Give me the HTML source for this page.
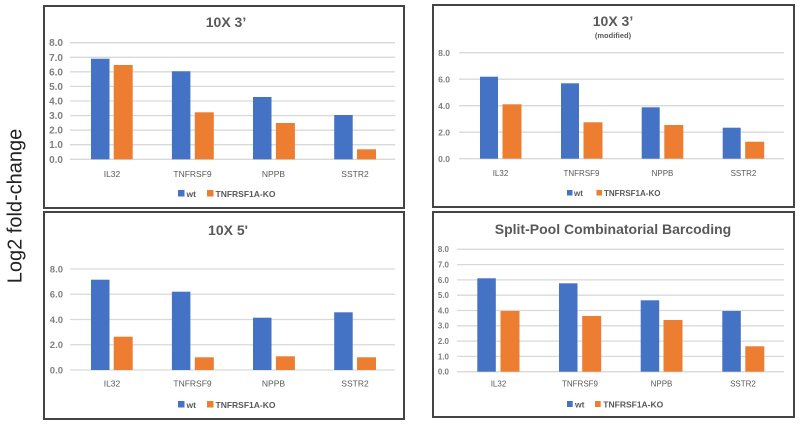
<!DOCTYPE html>
<html><head><meta charset="utf-8"><style>
html,body{margin:0;padding:0;background:#fff;}
svg{display:block;}
text{font-family:"Liberation Sans",Arial,sans-serif;}
</style></head><body>
<svg width="800" height="426" viewBox="0 0 800 426" xmlns="http://www.w3.org/2000/svg">
<rect width="800" height="426" fill="#fff"/>
<text x="0" y="0" transform="translate(21.5,206) rotate(-90)" text-anchor="middle" font-size="20" fill="#222">Log2 fold-change</text>

<!-- Panel 1 -->
<rect x="44" y="6" width="360" height="202" fill="none" stroke="#444" stroke-width="2"/>
<text x="226" y="27" text-anchor="middle" font-size="14" font-weight="bold" fill="#595959">10X 3’</text>
<g stroke="#d9d9d9" stroke-width="1.3">
<line x1="70" x2="395" y1="42.7" y2="42.7"/><line x1="70" x2="395" y1="57.3" y2="57.3"/><line x1="70" x2="395" y1="71.8" y2="71.8"/><line x1="70" x2="395" y1="86.4" y2="86.4"/><line x1="70" x2="395" y1="101" y2="101"/><line x1="70" x2="395" y1="115.6" y2="115.6"/><line x1="70" x2="395" y1="130.2" y2="130.2"/><line x1="70" x2="395" y1="144.7" y2="144.7"/><line x1="70" x2="395" y1="159.3" y2="159.3"/>
</g>
<g font-size="10" font-weight="bold" fill="#7f7f7f" text-anchor="end">
<text x="63" y="46.2">8.0</text><text x="63" y="60.8">7.0</text><text x="63" y="75.3">6.0</text><text x="63" y="89.9">5.0</text><text x="63" y="104.5">4.0</text><text x="63" y="119.1">3.0</text><text x="63" y="133.7">2.0</text><text x="63" y="148.2">1.0</text><text x="63" y="162.8">0.0</text>
</g>
<g fill="#4472C4">
<rect x="91" y="58.7" width="18.5" height="100.6"/><rect x="171.9" y="71.3" width="18.5" height="88"/><rect x="253" y="97" width="18.5" height="62.3"/><rect x="334.2" y="115" width="18.5" height="44.3"/>
</g>
<g fill="#ED7D31">
<rect x="113.7" y="65" width="19" height="94.3"/><rect x="194.8" y="112.3" width="19" height="47"/><rect x="275.9" y="123" width="19" height="36.3"/><rect x="357" y="149.3" width="19" height="10"/>
</g>
<g font-size="8.5" fill="#595959" text-anchor="middle">
<text x="112" y="177">IL32</text><text x="192.5" y="177">TNFRSF9</text><text x="273.5" y="177">NPPB</text><text x="355" y="177">SSTR2</text>
</g>
<rect x="178" y="190" width="6.5" height="6.5" fill="#4472C4"/>
<text x="186.5" y="197" font-size="8.5" font-weight="bold" fill="#595959">wt</text>
<rect x="207" y="190" width="6.5" height="6.5" fill="#ED7D31"/>
<text x="215.5" y="197" font-size="8.5" font-weight="bold" fill="#595959">TNFRSF1A-KO</text>

<!-- Panel 2 -->
<rect x="433" y="5" width="361" height="202" fill="none" stroke="#444" stroke-width="2"/>
<text x="613" y="26" text-anchor="middle" font-size="14" font-weight="bold" fill="#595959">10X 3’</text>
<text x="613" y="38" text-anchor="middle" font-size="7.5" font-weight="bold" fill="#595959">(modified)</text>
<g stroke="#d9d9d9" stroke-width="1.3">
<line x1="459" x2="784" y1="52.7" y2="52.7"/><line x1="459" x2="784" y1="79.2" y2="79.2"/><line x1="459" x2="784" y1="105.7" y2="105.7"/><line x1="459" x2="784" y1="132.2" y2="132.2"/><line x1="459" x2="784" y1="158.7" y2="158.7"/>
</g>
<g font-size="8.5" font-weight="bold" fill="#7f7f7f" text-anchor="end">
<text x="450" y="55.8">8.0</text><text x="450" y="82.3">6.0</text><text x="450" y="108.8">4.0</text><text x="450" y="135.3">2.0</text><text x="450" y="161.8">0.0</text>
</g>
<g fill="#4472C4">
<rect x="480" y="76.7" width="18" height="82"/><rect x="561" y="83.3" width="18" height="75.4"/><rect x="641.7" y="107.3" width="18" height="51.4"/><rect x="722.7" y="127.7" width="18" height="31"/>
</g>
<g fill="#ED7D31">
<rect x="502.5" y="104.3" width="19" height="54.4"/><rect x="583.5" y="122.3" width="19" height="36.4"/><rect x="664.3" y="125" width="19" height="33.7"/><rect x="745.2" y="141.7" width="19" height="17"/>
</g>
<g font-size="8" fill="#595959" text-anchor="middle">
<text x="500.5" y="176">IL32</text><text x="581.5" y="176">TNFRSF9</text><text x="662.5" y="176">NPPB</text><text x="743.5" y="176">SSTR2</text>
</g>
<rect x="567" y="190" width="5.5" height="5.5" fill="#4472C4"/>
<text x="574" y="196" font-size="8" font-weight="bold" fill="#595959">wt</text>
<rect x="596.5" y="190" width="5.5" height="5.5" fill="#ED7D31"/>
<text x="604" y="196" font-size="8" font-weight="bold" fill="#595959">TNFRSF1A-KO</text>

<!-- Panel 3 -->
<rect x="44" y="212" width="360" height="207" fill="none" stroke="#444" stroke-width="2"/>
<text x="228" y="235" text-anchor="middle" font-size="14" font-weight="bold" fill="#595959">10X 5'</text>
<g stroke="#d9d9d9" stroke-width="1.3">
<line x1="70" x2="395" y1="269" y2="269"/><line x1="70" x2="395" y1="294.25" y2="294.25"/><line x1="70" x2="395" y1="319.5" y2="319.5"/><line x1="70" x2="395" y1="344.75" y2="344.75"/><line x1="70" x2="395" y1="370" y2="370"/>
</g>
<g font-size="9.5" font-weight="bold" fill="#7f7f7f" text-anchor="end">
<text x="63" y="272.4">8.0</text><text x="63" y="297.6">6.0</text><text x="63" y="322.9">4.0</text><text x="63" y="348.1">2.0</text><text x="63" y="373.4">0.0</text>
</g>
<g fill="#4472C4">
<rect x="91" y="279.7" width="18.5" height="90.3"/><rect x="171.9" y="291.7" width="18.5" height="78.3"/><rect x="253" y="317.7" width="18.5" height="52.3"/><rect x="334.2" y="312.3" width="18.5" height="57.7"/>
</g>
<g fill="#ED7D31">
<rect x="113.7" y="336.7" width="19" height="33.3"/><rect x="194.8" y="357.3" width="19" height="12.7"/><rect x="275.9" y="356.3" width="19" height="13.7"/><rect x="357" y="357.3" width="19" height="12.7"/>
</g>
<g font-size="8.5" fill="#595959" text-anchor="middle">
<text x="112" y="386.3">IL32</text><text x="192.5" y="386.3">TNFRSF9</text><text x="273.5" y="386.3">NPPB</text><text x="355" y="386.3">SSTR2</text>
</g>
<rect x="178" y="401" width="6.5" height="6.5" fill="#4472C4"/>
<text x="186.5" y="408" font-size="8.5" font-weight="bold" fill="#595959">wt</text>
<rect x="207" y="401" width="6.5" height="6.5" fill="#ED7D31"/>
<text x="215.5" y="408" font-size="8.5" font-weight="bold" fill="#595959">TNFRSF1A-KO</text>

<!-- Panel 4 -->
<rect x="433" y="212" width="361" height="205" fill="none" stroke="#444" stroke-width="2"/>
<text x="613" y="234" text-anchor="middle" font-size="14" font-weight="bold" fill="#595959">Split-Pool Combinatorial Barcoding</text>
<g stroke="#d9d9d9" stroke-width="1.3">
<line x1="457" x2="784" y1="249.3" y2="249.3"/><line x1="457" x2="784" y1="264.6" y2="264.6"/><line x1="457" x2="784" y1="279.9" y2="279.9"/><line x1="457" x2="784" y1="295.2" y2="295.2"/><line x1="457" x2="784" y1="310.5" y2="310.5"/><line x1="457" x2="784" y1="325.8" y2="325.8"/><line x1="457" x2="784" y1="341.1" y2="341.1"/><line x1="457" x2="784" y1="356.4" y2="356.4"/><line x1="457" x2="784" y1="371.7" y2="371.7"/>
</g>
<g font-size="8" font-weight="bold" fill="#7f7f7f" text-anchor="end">
<text x="449" y="252.2">8.0</text><text x="449" y="267.5">7.0</text><text x="449" y="282.8">6.0</text><text x="449" y="298.1">5.0</text><text x="449" y="313.4">4.0</text><text x="449" y="328.7">3.0</text><text x="449" y="344">2.0</text><text x="449" y="359.3">1.0</text><text x="449" y="374.6">0.0</text>
</g>
<g fill="#4472C4">
<rect x="477.3" y="278.3" width="18.5" height="93.4"/><rect x="559" y="283.3" width="18.5" height="88.4"/><rect x="640.7" y="300.3" width="18.5" height="71.4"/><rect x="722.3" y="311" width="18.5" height="60.7"/>
</g>
<g fill="#ED7D31">
<rect x="500.5" y="311" width="19" height="60.7"/><rect x="582.2" y="316" width="19" height="55.7"/><rect x="663.5" y="320" width="19" height="51.7"/><rect x="745.3" y="346.3" width="19" height="25.4"/>
</g>
<g font-size="8" fill="#595959" text-anchor="middle">
<text x="498.5" y="386.3">IL32</text><text x="580" y="386.3">TNFRSF9</text><text x="661.5" y="386.3">NPPB</text><text x="743" y="386.3">SSTR2</text>
</g>
<rect x="567" y="401" width="5.7" height="6" fill="#4472C4"/>
<text x="575" y="407.5" font-size="8.5" font-weight="bold" fill="#595959">wt</text>
<rect x="595" y="401" width="5.7" height="6" fill="#ED7D31"/>
<text x="603.3" y="407.5" font-size="8.5" font-weight="bold" fill="#595959">TNFRSF1A-KO</text>
</svg>
</body></html>
